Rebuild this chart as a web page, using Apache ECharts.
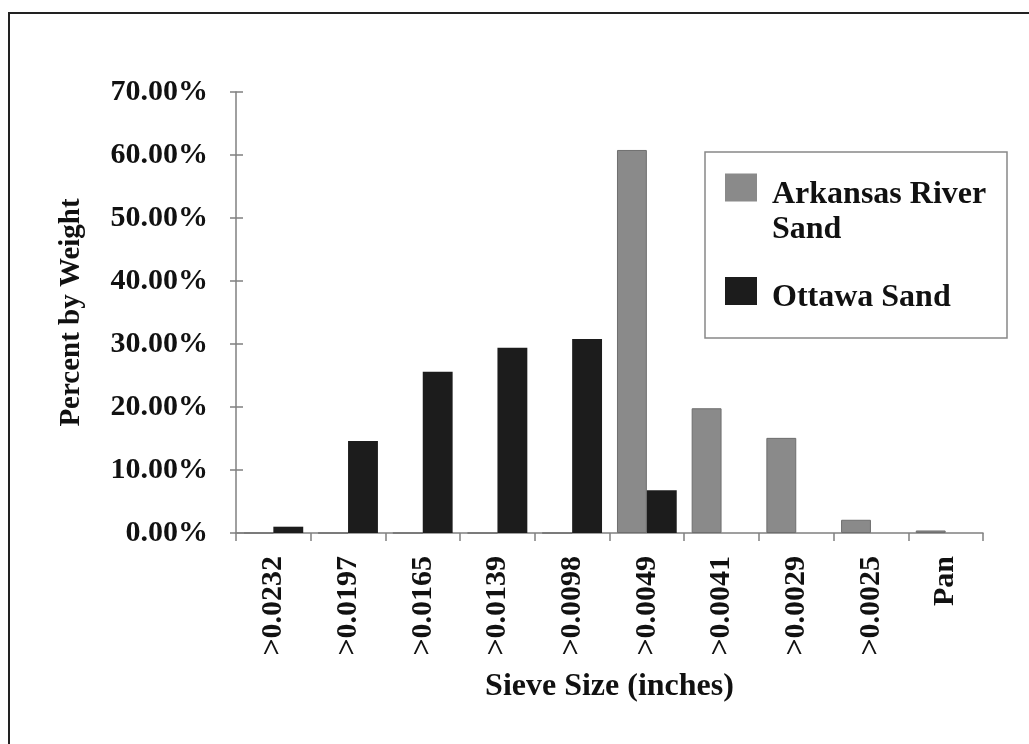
<!DOCTYPE html>
<html>
<head>
<meta charset="utf-8">
<title>Sieve analysis</title>
<script src="https://cdn.jsdelivr.net/npm/echarts@6/dist/echarts.min.js"></script>
<style>
	html, body { margin: 0; padding: 0; background: #fff; }
	#chart { width: 1029px; height: 744px; }
</style>
</head>
<body>
<div id="chart"></div>
<script>
//筛孔尺寸
var sieveSizes = [">0.0232", ">0.0197", ">0.0165", ">0.0139", ">0.0098", ">0.0049", ">0.0041", ">0.0029", ">0.0025", "Pan"];
//Arkansas River Sand 百分比
var arkansasData = [0, 0, 0, 0, 0, 60.8, 19.8, 15.1, 2.1, 0.4];
//Ottawa Sand 百分比
var ottawaData = [1.0, 14.6, 25.6, 29.4, 30.8, 6.8, 0, 0, 0, 0];
var yTicks = [0, 10, 20, 30, 40, 50, 60, 70];

var fontName = "Liberation Serif";
var chart = echarts.init(document.getElementById('chart'));

var option = {
	animation: false,
	backgroundColor: '#fff',
	grid: {
		left: 236,
		right: 46,
		top: 92,
		bottom: 211
	},
	legend: {
		orient: 'vertical',
		left: 725,
		top: 142,
		padding: 0,
		itemWidth: 32,
		itemHeight: 42,
		itemGap: 30,
		selectedMode: false,
		//色块放在上部，文字略低于色块
		icon: 'path://M0,0h32v28h-32zM0,42h0.01v0.01h-0.01z',
		itemStyle: {
			borderWidth: 0
		},
		//第一项前加空行，让色块与第一行文字对齐
		formatter: function(name){
			return name == 'Arkansas River Sand' ? '\nArkansas River\nSand' : name;
		},
		textStyle: {
			fontFamily: fontName,
			fontWeight: 'bold',
			fontSize: 32,
			lineHeight: 35,
			color: '#111',
			padding: [0, 0, 0, 10]
		},
		data: ['Arkansas River Sand', 'Ottawa Sand']
	},
	xAxis: {
		type: 'category',
		data: sieveSizes,
		name: 'Sieve Size (inches)',
		nameLocation: 'middle',
		nameGap: 138,
		nameTextStyle: {
			fontFamily: fontName,
			fontWeight: 'bold',
			fontSize: 32,
			color: '#111'
		},
		axisLine: { lineStyle: { color: '#808080', width: 1.5 } },
		axisTick: { show: true, length: 8, lineStyle: { color: '#808080', width: 1.5 } },
		axisLabel: {
			rotate: 90,
			margin: 23,
			interval: 0,
			fontFamily: fontName,
			fontWeight: 'bold',
			fontSize: 30,
			color: '#111'
		}
	},
	yAxis: [{
		type: 'value',
		min: yTicks[0],
		max: yTicks[yTicks.length - 1],
		interval: 10,
		name: 'Percent by Weight',
		nameLocation: 'middle',
		nameGap: 150,
		nameRotate: 90,
		nameTextStyle: {
			fontFamily: fontName,
			fontWeight: 'bold',
			fontSize: 29,
			color: '#111'
		},
		splitLine: { show: false },
		axisLine: { show: true, lineStyle: { color: '#808080', width: 1.5 } },
		axisTick: { show: true, length: 6, lineStyle: { color: '#808080', width: 1.5 } },
		axisLabel: {
			margin: 28,
			fontFamily: fontName,
			fontWeight: 'bold',
			fontSize: 30,
			color: '#111',
			formatter: function(v){
				return v.toFixed(2) + '%';
			}
		}
	}, {
		//刻度线穿过坐标轴
		type: 'value',
		position: 'left',
		min: yTicks[0],
		max: yTicks[yTicks.length - 1],
		interval: 10,
		splitLine: { show: false },
		axisLine: { show: false },
		axisTick: { show: true, inside: true, length: 7, lineStyle: { color: '#808080', width: 1.5 } },
		axisLabel: { show: false }
	}],
	series: [{
		name: 'Arkansas River Sand',
		type: 'bar',
		barGap: '0%',
		barCategoryGap: '20%',
		itemStyle: {
			color: '#8a8a8a',
			borderColor: '#6e6e6e',
			borderWidth: 1
		},
		data: arkansasData
	}, {
		name: 'Ottawa Sand',
		type: 'bar',
		barGap: '0%',
		barCategoryGap: '20%',
		itemStyle: {
			color: '#1c1c1c',
			borderWidth: 0
		},
		data: ottawaData
	}],
	graphic: [{
		//外框
		type: 'rect',
		shape: { x: 9, y: 13, width: 1100, height: 800 },
		style: { fill: 'none', stroke: '#222', lineWidth: 2 },
		silent: true
	}, {
		//图例框
		type: 'rect',
		shape: { x: 705, y: 152, width: 302, height: 186 },
		style: { fill: 'none', stroke: '#888', lineWidth: 1.5 },
		silent: true
	}]
};
chart.setOption(option);
</script>
</body>
</html>
